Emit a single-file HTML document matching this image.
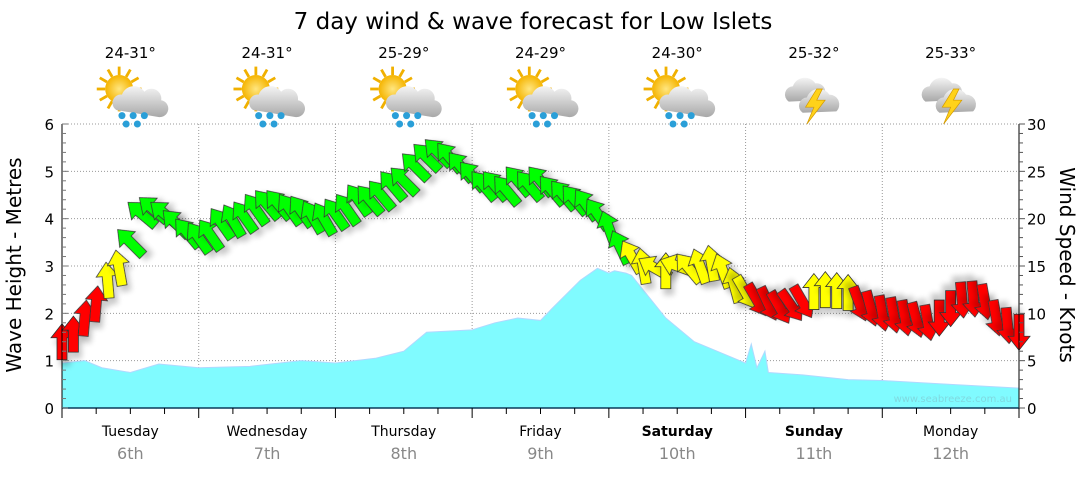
<!DOCTYPE html>
<html><head><meta charset="utf-8"><style>
body{margin:0;background:#fff;width:1080px;height:475px;overflow:hidden;font-family:"DejaVu Sans",sans-serif;}
svg text{font-family:"DejaVu Sans","Liberation Sans",sans-serif;}
</style></head><body>
<svg id="chart" width="1080" height="475" viewBox="0 0 1080 475" xmlns="http://www.w3.org/2000/svg">
<defs>
<filter id="sh" x="-50%" y="-50%" width="200%" height="200%"><feGaussianBlur in="SourceAlpha" stdDeviation="3"/><feOffset dx="3" dy="6"/><feComponentTransfer><feFuncA type="linear" slope="0.22"/></feComponentTransfer><feMerge><feMergeNode/><feMergeNode in="SourceGraphic"/></feMerge></filter>
<radialGradient id="sun" cx="0.5" cy="0.5" r="0.5"><stop offset="0" stop-color="#ffe680"/><stop offset="1" stop-color="#f5b400"/></radialGradient>
<linearGradient id="cloud" x1="0" y1="0" x2="0" y2="1"><stop offset="0" stop-color="#f4f4f4"/><stop offset="1" stop-color="#a8a8a8"/></linearGradient>
</defs>
<text x="533" y="29" text-anchor="middle" font-size="23" fill="#000">7 day wind &amp; wave forecast for Low Islets</text>
<g id="grid"></g>
<g id="waves"></g>
<g id="arrows"></g>
<g id="axes"></g>
<g id="icons"></g>
<text x="1012" y="402" text-anchor="end" font-size="10" fill="#7fd9e0">www.seabreeze.com.au</text>
<text transform="translate(21,265) rotate(-90)" text-anchor="middle" font-size="20" fill="#000">Wave Height - Metres</text>
<text transform="translate(1060,265) rotate(90)" text-anchor="middle" font-size="20" fill="#000">Wind Speed - Knots</text>
</svg>
<script>
const days=["Tuesday","Wednesday","Thursday","Friday","Saturday","Sunday","Monday"];
const dates=["6th","7th","8th","9th","10th","11th","12th"];
const boldDays=[false,false,false,false,true,true,false];
const temps=["24-31°","24-31°","25-29°","24-29°","24-30°","25-32°","25-33°"];
const iconTypes=["rain","rain","rain","rain","rain","storm","storm"];
const waveTicks=[0,1,2,3,4,5,6];
const windTicks=[0,5,10,15,20,25,30];
const windHours=[0,2,4,6,8,10,12,14,16,18,20,22,24,26,28,30,32,34,36,38,40,42,44,46,48,50,52,54,56,58,60,62,64,66,68,70,72,74,76,78,80,82,84,86,88,90,92,94,96,98,100,102,104,106,108,110,112,114,116,118,120,122,124,126,128,130,132,134,136,138,140,142,144,146,148,150,152,154,156,158,160,162,164,166,168];
const windSpeed=[7,7.8,9.5,11,13.5,14.8,17.5,20.5,21,20.5,19.5,18.5,18,18.3,19.5,19.8,20.2,21,21.5,21.5,21,20.8,20.2,20,20.5,21,22,22,22.5,23.5,24,25.5,26.5,27,26.5,25.5,24.5,23.5,23.5,23,24,23.5,24,23,22.5,22,21.5,20.5,19,17,16,15,14.8,14.5,15,14.8,15,15.3,14.5,13,12.2,11.4,11,10.6,10.8,11.2,12.3,12.5,12.4,12.2,11,10.5,10,9.8,9.5,9.3,9,9.5,10.5,11.4,11.5,11.2,9.5,8.7,8];
const windDir=[0,0,5,5,-5,-10,-45,-50,-50,-50,-45,-40,-35,-35,-35,-30,-35,-35,-40,-40,-35,-35,-30,-30,-35,-35,-35,-40,-40,-40,-45,-45,-45,-45,-40,-40,-40,-40,-40,-40,-40,-40,-40,-40,-40,-40,-35,-35,-20,-25,-30,-10,-60,0,-70,-40,-20,-10,-20,-15,150,150,155,150,145,150,0,0,0,0,160,165,170,170,170,165,170,180,180,175,175,170,170,175,180];
const waveHours=[0,4,7,12,17,24,33,42,48,55,60,64,72,76,80,84,86,91,94,96,97,99,100,102,106,111,116,119,120,121,122,123.4,124,130,138,144,156,168];
const waveHeight=[0.95,1.0,0.85,0.75,0.93,0.85,0.88,1.0,0.95,1.05,1.2,1.6,1.65,1.8,1.9,1.85,2.1,2.7,2.95,2.85,2.9,2.85,2.8,2.5,1.9,1.4,1.15,1.0,0.95,1.35,0.85,1.2,0.75,0.7,0.6,0.58,0.5,0.42];

const NS="http://www.w3.org/2000/svg";
const X0=62,X1=1019,YT=124,YB=408,HRS=168;
const xH=h=>X0+h*(X1-X0)/HRS;
const yW=m=>YB-m*(YB-YT)/6;
const yK=k=>YB-k*(YB-YT)/30;
function mk(tag,attrs,parent){const e=document.createElementNS(NS,tag);for(const k in attrs)e.setAttribute(k,attrs[k]);parent.appendChild(e);return e;}
const grid=document.getElementById('grid'),axes=document.getElementById('axes');
waveTicks.forEach(t=>{if(t>0){const l=mk('line',{x1:X0,x2:X1,y1:yW(t),y2:yW(t),stroke:'#999','stroke-dasharray':'1,2'},grid);

}});
for(let d=1;d<7;d++){const l=mk('line',{x1:xH(d*24),x2:xH(d*24),y1:YT,y2:YB,stroke:'#999','stroke-dasharray':'1,2'},grid);

}
let pts=waveHours.map((h,i)=>xH(h)+','+yW(waveHeight[i])).join(' ');
const wave=mk('polygon',{points:xH(waveHours[0])+','+YB+' '+pts+' '+xH(waveHours[waveHours.length-1])+','+YB,fill:'#80fbff',stroke:'#b0d8ff','stroke-width':1},document.getElementById('waves'));


const ag=document.getElementById('arrows');
const path="M0,-18 L11,-4 L5,-4 L5,18 L-5,18 L-5,-4 L-11,-4 Z";
windHours.forEach((h,i)=>{const s=windSpeed[i];const c=s<11.8?'#ff0000':(s<17?'#ffff00':'#00ff00');
const a=mk('path',{d:path,fill:c,stroke:'#333','stroke-width':0.8,filter:'url(#sh)',transform:`translate(${xH(h)},${yK(s)}) rotate(${windDir[i]})`},ag);

});
const la=mk('line',{x1:X0,x2:X0,y1:YT,y2:YB+10,stroke:'#000'},axes);


const ra=mk('line',{x1:X1,x2:X1,y1:YT,y2:YB,stroke:'#000'},axes);


const ba=mk('line',{x1:X0,x2:X1,y1:YB,y2:YB,stroke:'#0a3a5a','stroke-width':1.5},axes);


for(let i=0;i<=30;i++){const y=YB-i*(YB-YT)/30;mk('line',{x1:X0,x2:X0+(i%5?4:6),y1:y,y2:y,stroke:'#777'},axes);mk('line',{x1:X1,x2:X1+(i%5?4:6),y1:y,y2:y,stroke:'#555'},axes);}
waveTicks.forEach(t=>{const e=mk('text',{x:X0-8,y:yW(t)+6,'text-anchor':'end','font-size':15},axes);e.textContent=t;

});
windTicks.forEach(t=>{const e=mk('text',{x:X1+8,y:yK(t)+6,'font-size':15},axes);e.textContent=t;

});
for(let h=0;h<=HRS;h+=6){mk('line',{x1:xH(h),x2:xH(h),y1:YB,y2:YB+(h%24?6:10),stroke:'#000'},axes);}
const ic=document.getElementById('icons');
days.forEach((d,i)=>{const cx=xH(i*24+12);
const t=mk('text',{x:cx,y:436,'text-anchor':'middle','font-size':14,'font-weight':boldDays[i]?'bold':'normal'},axes);t.textContent=d;


const dt=mk('text',{x:cx,y:459,'text-anchor':'middle','font-size':16,fill:'#888'},axes);dt.textContent=dates[i];


const tp=mk('text',{x:cx,y:58,'text-anchor':'middle','font-size':15},ic);tp.textContent=temps[i];


const g=mk('g',{transform:`translate(${cx},96) scale(1.4)`},ic);


if(iconTypes[i]=='rain'){
 for(let k=0;k<12;k++){const an=k*30*Math.PI/180;mk('line',{x1:-8+Math.cos(an)*10,y1:-5+Math.sin(an)*10,x2:-8+Math.cos(an)*16,y2:-5+Math.sin(an)*16,stroke:'#f0b000','stroke-width':2},g);}
 mk('circle',{cx:-8,cy:-5,r:10,fill:'url(#sun)'},g);
 mk('path',{d:'M-10,10 a6,6 0 0 1 4,-11 a9,9 0 0 1 16,-2 a7,7 0 0 1 12,6 a6,6 0 0 1 -2,12 Z',fill:'url(#cloud)'},g);
 [[-6,14],[2,14],[10,14],[-3,20],[5,20]].forEach(p=>mk('circle',{cx:p[0],cy:p[1],r:2.5,fill:'#2a9fd8'},g));
}else{
 mk('path',{d:'M-18,4 a6,6 0 0 1 3,-11 a9,9 0 0 1 16,-2 a6,6 0 0 1 2,12 Z',fill:'url(#cloud)'},g);
 mk('path',{d:'M-8,12 a6,6 0 0 1 3,-11 a9,9 0 0 1 16,-2 a7,7 0 0 1 5,12 Z',fill:'url(#cloud)'},g);
 mk('path',{d:'M2,-5 L-6,8 L0,8 L-5,20 L8,3 L2,3 L6,-5 Z',fill:'#ffd21a',stroke:'#d49a00','stroke-width':0.5},g);
}});
</script>
</body></html>
